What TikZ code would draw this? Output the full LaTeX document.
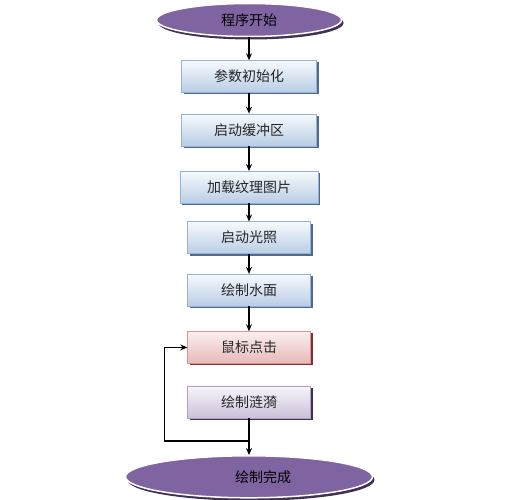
\documentclass[tikz,border=0pt]{standalone}
\usepackage{fontspec}
\newfontfamily\cjk{Noto Sans CJK SC}
\usepackage{xcolor}
\usetikzlibrary{arrows.meta,positioning,shapes.geometric,shadows}
\definecolor{lila}{HTML}{8064A2}
\definecolor{lilaDark}{HTML}{3F3151}
\definecolor{bluTop}{HTML}{F7FAFD}
\definecolor{bluBot}{HTML}{B9CDE5}
\definecolor{bluLine}{HTML}{95B3D7}
\definecolor{bluDark}{HTML}{4F6A8C}
\definecolor{redTop}{HTML}{FBEFEF}
\definecolor{redBot}{HTML}{E6B9B8}
\definecolor{redLine}{HTML}{D99694}
\definecolor{redDark}{HTML}{7F2E2D}
\definecolor{purTop}{HTML}{F7F5FA}
\definecolor{purBot}{HTML}{CCC1DA}
\definecolor{purLine}{HTML}{B3A2C7}

\begin{document}
\begin{tikzpicture}[x=1pt,y=-1pt,>={Stealth[length=7pt,width=6pt]},node distance=21pt,
  font=\cjk\fontsize{14}{16}\selectfont,
  term/.style={ellipse,draw=white,line width=1.5pt,fill=lila,inner sep=0pt,
    drop shadow={shadow xshift=2pt,shadow yshift=-3pt,fill=lilaDark,opacity=1}},
  stepbox/.style={draw=bluLine,top color=bluTop,bottom color=bluBot,minimum height=32pt,
    inner sep=0pt,text=black!85,
    drop shadow={shadow xshift=2pt,shadow yshift=-2pt,fill=bluDark,opacity=1}},
  clickbox/.style={stepbox,draw=redLine,top color=redTop,bottom color=redBot,
    drop shadow={shadow xshift=2pt,shadow yshift=-2pt,fill=redDark,opacity=1}},
  ripplebox/.style={stepbox,draw=purLine,top color=purTop,bottom color=purBot,
    drop shadow={shadow xshift=2pt,shadow yshift=-2pt,fill=lilaDark,opacity=1}},
  link/.style={->,line width=1.3pt}]
\useasboundingbox (0,0) rectangle (509,500);
\node[term,minimum width=185pt,minimum height=33pt] (start) at (249,20) {程序开始};
\node[stepbox,minimum width=135pt,below=23pt of start] (init) {参数初始化};
\node[stepbox,minimum width=135pt,below=21pt of init] (buf) {启动缓冲区};
\node[stepbox,minimum width=138pt,below=25pt of buf] (tex) {加载纹理图片};
\node[stepbox,minimum width=123pt,below=18pt of tex] (light) {启动光照};
\node[stepbox,minimum width=123pt,below=20pt of light] (water) {绘制水面};
\node[clickbox,minimum width=123pt,below=25pt of water] (click) {鼠标点击};
\node[ripplebox,minimum width=123pt,below=22pt of click] (ripple) {绘制涟漪};
\node[term,minimum width=247pt,minimum height=42pt,below=37pt of ripple] (done) {\hspace*{28pt}绘制完成};
\draw[link] (start) -- (init);
\draw[link] (init) -- (buf);
\draw[link] (buf) -- (tex);
\draw[link] (tex) -- (light);
\draw[link] (light) -- (water);
\draw[link] (water) -- (click);
\draw[link] (ripple) -- (done);
% loop back to the click
\coordinate[below=23pt of ripple.south] (knee);
\coordinate[left=23pt of click.west] (back);
\draw[link] (knee) -| (back) -- (click.west);
\end{tikzpicture}
\end{document}
